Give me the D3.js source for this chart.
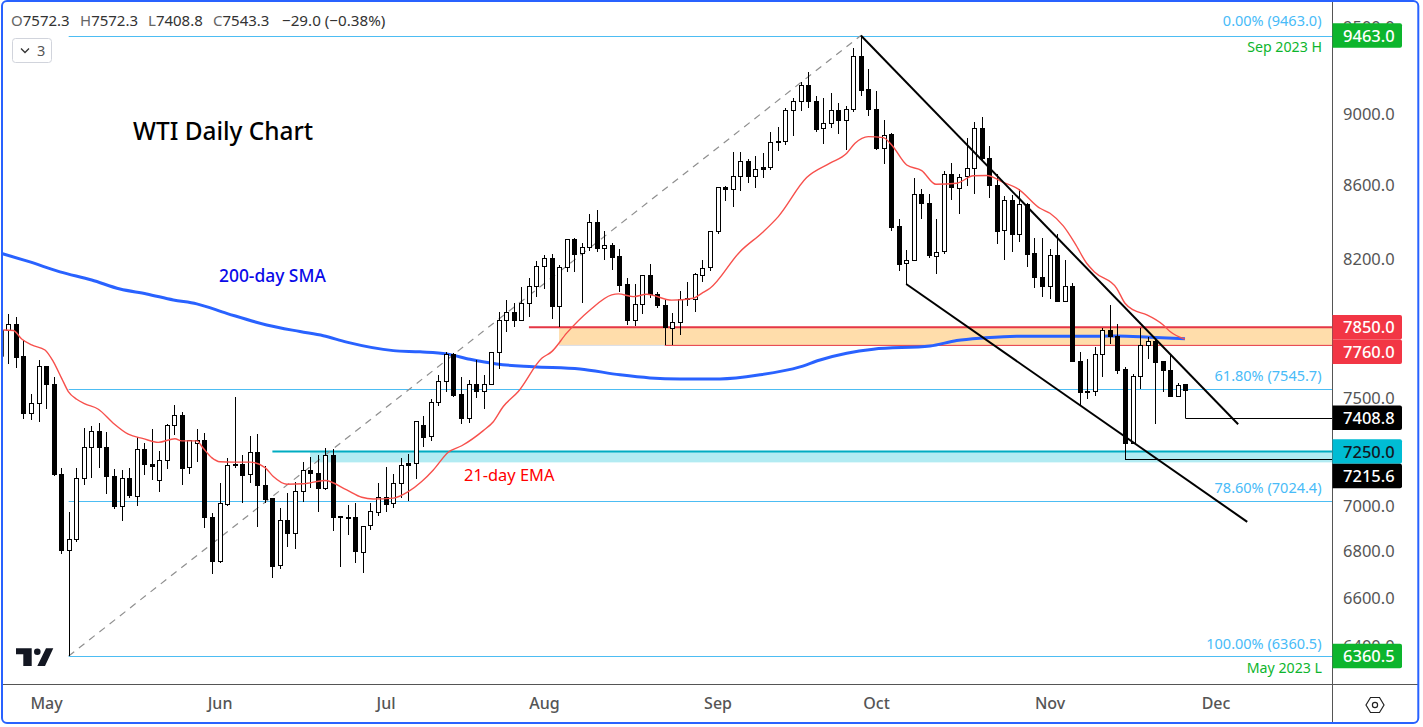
<!DOCTYPE html>
<html><head><meta charset="utf-8">
<script src="https://cdnjs.cloudflare.com/ajax/libs/d3/7.8.5/d3.min.js"></script>
<style>html,body{margin:0;padding:0;background:#fff;overflow:hidden}svg{display:block}text{font-family:"Noto Sans","Open Sans",sans-serif}</style>
</head><body><svg id="c" width="1423" height="727"></svg>
<script>
const opens=[7837,7866,7706,7430,7478,7657,7569,7145,6806,6853,7125,7268,7345,7270,7136,6999,7127,7048,7261,7192,7118,7210,7373,7422,7176,7289,7303,6951,6757,7012,7188,7192,7144,7247,7095,7037,6739,6938,6879,7068,7164,7151,7084,7233,6951,6950,6951,6800,6914,6978,7044,7012,7103,7187,7196,7373,7320,7483,7584,7716,7521,7406,7569,7536,7569,7726,7886,7927,7886,7972,8059,8163,8205,7955,8158,8306,8229,8263,8397,8256,8276,8216,8070,7884,7967,8116,8018,7962,7851,7879,7993,7993,8121,8156,8346,8587,8574,8647,8731,8645,8686,8695,8841,8841,9021,9073,9166,9074,8915,8946,9021,8969,9030,9339,9143,9026,8807,8885,8376,8179,8195,8548,8499,8221,8240,8658,8587,8645,8692,8917,8747,8598,8353,8516,8330,8494,8232,8106,8059,8221,7980,8059,7682,7534,7534,7716,7836,7807,7642,7289,7608,7761,7784,7682,7638,7516,7572.3];
const highs=[7918,7901,7787,7521,7688,7660,7603,7173,6974,7173,7359,7370,7383,7342,7169,7164,7173,7320,7290,7356,7252,7378,7468,7435,7304,7356,7336,6969,7104,7219,7508,7234,7323,7331,7182,7037,6992,7059,7109,7202,7225,7234,7268,7261,6959,7007,7014,6914,7017,7104,7179,7146,7220,7238,7392,7417,7497,7615,7729,7721,7603,7589,7687,7613,7726,7927,7989,7972,8056,8102,8191,8222,8226,8170,8306,8311,8284,8441,8463,8350,8284,8253,8101,8071,8118,8175,8032,7989,7921,8037,8080,8130,8196,8350,8590,8594,8783,8783,8742,8760,8775,8894,8925,9032,9090,9184,9243,9104,9090,9119,9061,9045,9386,9463,9260,9131,8965,8891,8414,8249,8636,8577,8548,8414,8675,8721,8660,8862,8952,8980,8815,8660,8539,8543,8576,8503,8311,8311,8253,8332,8195,8078,7726,7691,7751,7846,7964,7866,7655,7618,7846,7804,7796,7682,7717,7573,7572.3];
const lows=[7668,7650,7404,7400,7390,7452,7139,6791,6360.5,6844,7098,7129,7174,7057,6989,6936,7039,7003,7142,7120,7066,7170,7328,7098,7148,7202,6905,6705,6752,7003,7176,7017,7106,6910,7017,6688,6727,6822,6813,7021,7083,6977,7074,6892,6735,6873,6752,6709,6895,6959,6977,6994,7037,7025,7124,7273,7301,7465,7534,7508,7381,7386,7505,7452,7569,7645,7827,7854,7886,7903,8006,8047,7894,7854,8135,8135,7975,8245,8240,8196,8144,8032,7864,7858,7918,8001,7948,7762,7762,7812,7960,7930,8083,8139,8336,8512,8481,8566,8610,8585,8638,8682,8790,8822,8873,9017,9034,8896,8828,8921,8885,8794,9013,9105,8990,8796,8717,8351,8139,8071,8195,8416,8209,8125,8228,8517,8441,8594,8552,8738,8530,8281,8198,8240,8293,8161,8052,8006,7994,7980,7980,7680,7470,7500,7513,7606,7767,7620,7215.6,7286,7547,7691,7381,7534,7514,7516,7408.8];
const closes=[7866,7704,7428,7478,7657,7568,7144,6804,6854,7127,7270,7345,7268,7135,6999,7127,7048,7261,7190,7185,7210,7373,7421,7176,7303,7303,6950,6757,7014,7187,7192,7142,7247,7094,7033,6739,6938,6879,7068,7164,7148,7083,7233,6950,6956,6953,6800,6914,6978,7044,7012,7104,7187,7196,7392,7318,7483,7584,7716,7518,7404,7569,7534,7569,7726,7886,7927,7886,7972,8059,8163,8205,7955,8158,8306,8229,8263,8397,8256,8274,8214,8067,7884,7967,8116,8018,7960,7851,7879,7996,7998,8121,8156,8348,8587,8574,8647,8731,8645,8686,8697,8838,8845,9021,9073,9166,9070,8915,8946,9021,8966,9030,9339,9140,9024,8805,8881,8373,8177,8195,8548,8497,8219,8240,8658,8585,8645,8692,8917,8745,8596,8351,8516,8330,8494,8229,8104,8057,8221,7980,8059,7680,7529,7537,7716,7836,7804,7640,7289,7608,7761,7781,7680,7636,7514,7567,7543.3];
const emaIndex=[.33,1.66,2.77,4.1,5.86,6.96,8.07,8.95,10.06,11.16,12.93,14.91,16.9,18.89,20.88,23.09,23.98,25.97,26.84,27.95,29.05,30.82,33.03,35.02,36.12,37.9,40.1,42.97,45.85,47.84,49.37,52.02,54.01,55.79,57.33,59.31,61.09,63.95,65.28,66.6,68.59,71.7,73.02,75,78.1,80.97,81.85,83.83,85.61,88.92,91.79,92.9,94,97.98,101.07,103.05,106.81,109.9,112.12,113.22,114.98,116.97,118.08,120.07,122.06,123.95,126.7,128.9,130.67,132.87,134.86,137.74,139.06,140.82,142.37,143.92,145,147.9,149,150.1,151.9,154.07,154.97,156.95];
const emaValue=[7837,7834,7792,7762,7737,7680,7598,7534,7497,7475,7449,7383,7331,7310,7293,7310,7300,7300,7265,7222,7203,7201,7201,7176,7135,7100,7102,7117,7074,7041,7033,7037,7066,7112,7165,7247,7277,7348,7390,7462,7534,7696,7729,7821,7938,8015,8020,8006,8018,7988,7998,8023,8049,8240,8346,8427,8640,8720,8776,8832,8870,8864,8822,8710,8679,8603,8609,8650,8652,8614,8577,8472,8445,8377,8284,8179,8132,8049,7972,7938,7913,7862,7829,7791];
const smaIndex=[-.1,3.87,7.85,12.05,15.8,19.34,22.87,25.97,29.94,35.24,39.66,42.75,45.85,52.02,55.56,59.1,62.19,65.73,70.58,76.77,82.07,86.05,90.02,95.32,100.62,105.93,108.58,112.12,115.64,123.16,126.7,130.22,134.65,145.69,147.9,152.3,156.95];
const smaValue=[8233,8186,8134,8092,8045,8020,7989,7969,7921,7862,7829,7808,7776,7734,7728,7718,7691,7668,7655,7644,7615,7600,7595,7595,7615,7654,7688,7721,7741,7757,7784,7797,7806,7806,7807,7801,7793];
const edgeBar={index:.33,high:7837,low:7704};
const yTicks=[9500,9000,8600,8200,7500,7000,6800,6600,6400];
const monthNames=["May","Jun","Jul","Aug","Sep","Oct","Nov","Dec"];
const monthIndex=[6,29,51,72,95,116,139,161];
const fibPct=["0.00%","61.80%","78.60%","100.00%"];
const fibPrice=[9463,7545.7,7024.4,6360.5];
const fibStartIndex=9, swingHighIndex=114;
const channelUpper=[[114,9463],[164,7378]];
const channelLower=[[120,8071],[165.2,6931]];
const orangeZone={start:74,lineStart:70,lowStart:88,top:7850,bottom:7760};
const cyanZone={lineStart:36,start:41,top:7250,bottom:7200};
const lowRay={index:157,price:7408.8}, lowRay2={index:149,price:7215.6};
const pills=[[9463,"9463.0","#0DB52D","#fff"],[7850,"7850.0","#F23645","#fff"],[7760,"7760.0","#F23645","#fff"],[7408.8,"7408.8","#000","#fff"],[7250,"7250.0","#00BCD4","#131722"],[7215.6,"7215.6","#000","#fff"],[6360.5,"6360.5","#0DB52D","#fff"]];

const plotR=1332, plotB=684;
const x=d3.scaleLinear().domain([0,157]).range([0.78,0.78+157*7.545]);
const y=d3.scaleLog().domain([6360.5,9463]).range([656,35.5]);
const svg=d3.select("#c");
svg.append("defs").append("clipPath").attr("id","plot").append("rect").attr("x",3).attr("y",2).attr("width",plotR-3).attr("height",plotB-2);
const g=svg.append("g").attr("clip-path","url(#plot)");
const px=v=>Math.round(v)+.5;

// zones
g.append("rect").attr("x",x(orangeZone.start)).attr("y",y(orangeZone.top)).attr("width",plotR-x(orangeZone.start)).attr("height",y(orangeZone.bottom)-y(orangeZone.top)).attr("fill","#FFDDAB");
g.append("rect").attr("x",x(cyanZone.start)).attr("y",y(cyanZone.top)).attr("width",plotR-x(cyanZone.start)).attr("height",y(cyanZone.bottom)-y(cyanZone.top)).attr("fill","#B2EBF2");
g.append("line").attr("x1",x(orangeZone.start)).attr("x2",x(orangeZone.lowStart)).attr("y1",y(orangeZone.bottom)).attr("y2",y(orangeZone.bottom)).attr("stroke","#D9DCE8");
g.append("line").attr("x1",x(orangeZone.lineStart)).attr("x2",plotR).attr("y1",y(orangeZone.top)).attr("y2",y(orangeZone.top)).attr("stroke","#E53645").attr("stroke-width",2);
g.append("line").attr("x1",x(orangeZone.lowStart)).attr("x2",plotR).attr("y1",y(orangeZone.bottom)).attr("y2",y(orangeZone.bottom)).attr("stroke","#E53645").attr("stroke-width",1);
g.append("line").attr("x1",x(cyanZone.lineStart)).attr("x2",plotR).attr("y1",y(cyanZone.top)).attr("y2",y(cyanZone.top)).attr("stroke","#00ACC1").attr("stroke-width",2);

// fib lines
g.selectAll(".fib").data(fibPrice).join("line").attr("x1",x(fibStartIndex)).attr("x2",plotR)
 .attr("y1",d=>Math.round(y(d))+.5).attr("y2",d=>Math.round(y(d))+.5).attr("stroke","#4DBDF3").attr("stroke-width",1);
g.append("line").attr("x1",x(fibStartIndex)).attr("y1",y(6360.5)).attr("x2",x(swingHighIndex)).attr("y2",y(9463)).attr("stroke","#8f8f8f").attr("stroke-width",1.2).attr("stroke-dasharray","7 6");

// 200 SMA below candles
const lineGen=d3.line().x(d=>x(d[0])).y(d=>y(d[1])).curve(d3.curveMonotoneX);
g.append("path").attr("d",lineGen(d3.zip(smaIndex,smaValue))).attr("fill","none").attr("stroke","#2962FF").attr("stroke-width",3);

// candles
g.append("line").attr("x1",x(edgeBar.index)).attr("x2",x(edgeBar.index)).attr("y1",y(edgeBar.high)).attr("y2",y(edgeBar.low)).attr("stroke","#000");
const bars=d3.range(opens.length);
const cg=g.append("g").attr("shape-rendering","crispEdges");
cg.selectAll(".w").data(bars).join("line").attr("x1",i=>px(x(i+1))).attr("x2",i=>px(x(i+1)))
 .attr("y1",i=>y(highs[i])).attr("y2",i=>y(lows[i])).attr("stroke","#000").attr("stroke-width",1);
cg.selectAll(".b").data(bars).join("rect")
 .attr("x",i=>px(x(i+1))-2).attr("width",4)
 .attr("y",i=>Math.round(y(Math.max(opens[i],closes[i])))+.5)
 .attr("height",i=>Math.max(1,Math.round(Math.abs(y(opens[i])-y(closes[i])))))
 .attr("fill",i=>{const h=Math.abs(y(opens[i])-y(closes[i]));return closes[i]>=opens[i]&&h>=2.5?"#fff":"#000"})
 .attr("stroke","#000").attr("stroke-width",1);

// EMA above candles
g.append("path").attr("d",lineGen(d3.zip(emaIndex,emaValue))).attr("fill","none").attr("stroke","#F7504C").attr("stroke-width",1.4);

// trend lines
const tl=d3.line().x(d=>x(d[0])).y(d=>y(d[1]));
[channelUpper,channelLower].forEach(c=>g.append("path").attr("d",tl(c)).attr("fill","none").attr("stroke","#000").attr("stroke-width",2));
[lowRay,lowRay2].forEach(r=>g.append("line").attr("x1",x(r.index)).attr("x2",plotR).attr("y1",Math.round(y(r.price))+.5).attr("y2",Math.round(y(r.price))+.5).attr("stroke","#000"));

// plot text
const T=(tx,ty,s,size,col,anchor,weight)=>svg.append("text").attr("x",tx).attr("y",ty).attr("font-size",size).attr("fill",col).attr("text-anchor",anchor||"start").attr("font-weight",weight||400).text(s);
T(133,140,"WTI Daily Chart",24.4,"#000","start",500);
T(219,282,"200-day SMA",17.4,"#0A0AE8","start",500);
T(464,481,"21-day EMA",16.4,"#F00");
const fibLabelY=[26,381,493,649];
fibPct.forEach((p,i)=>T(1321.5,fibLabelY[i],p+" ("+fibPrice[i].toFixed(1)+")",14.5,"#48BBF8","end"));
T(1322,52,"Sep 2023 H",14.2,"#0DB52D","end");
T(1322,673,"May 2023 L",14.2,"#0DB52D","end");

// axes
const ya=svg.append("g").attr("transform",`translate(${plotR},0)`).call(d3.axisRight(y).tickValues(yTicks).tickSize(0).tickPadding(11).tickFormat(d=>d.toFixed(1)));
ya.select(".domain").remove();
ya.selectAll("text").attr("font-size",16.5).attr("fill","#555").style("font-family",'"Noto Sans"');
ya.selectAll(".tick").filter(d=>d===9500).select("text").attr("y",-2);
const xa=svg.append("g").attr("transform",`translate(0,${plotB})`).call(d3.axisBottom(x).tickValues(monthIndex).tickSize(0).tickPadding(14).tickFormat((d,i)=>monthNames[i]));
xa.select(".domain").remove();
xa.selectAll("text").attr("font-size",16).attr("fill","#555").attr("font-weight",500).style("font-family",'"Noto Sans"');
svg.append("line").attr("x1",plotR+.5).attr("x2",plotR+.5).attr("y1",2).attr("y2",723).attr("stroke","#555");
svg.append("line").attr("x1",3).attr("x2",1418).attr("y1",plotB+.5).attr("y2",plotB+.5).attr("stroke","#555");

// price pills: stacked downward so that neighbouring labels never overlap
const pillH=24.5;
let prevC=-1e9;
const pillCentre=pills.map(d=>{prevC=Math.max(y(d[0]),prevC+pillH);return prevC;});
const pg=svg.selectAll(".pill").data(pills).join("g");
pg.append("path").attr("d",(d,i)=>{const yc=pillCentre[i],t=yc-pillH/2,b=yc+pillH/2,r=plotR+70;return `M${plotR+.5},${t}H${r-2}Q${r},${t} ${r},${t+2}V${b-2}Q${r},${b} ${r-2},${b}H${plotR+.5}Z`}).attr("fill",d=>d[2]);
pg.append("text").attr("x",plotR+11).attr("y",(d,i)=>pillCentre[i]+6).attr("font-size",16.5).attr("font-weight",500).attr("fill",d=>d[3]).text(d=>d[1]);

// header
const hdr=[[11,"O","7572.3"],[80,"H","7572.3"],[148,"L","7408.8"],[213,"C","7543.3"]];
hdr.forEach(h=>{const t=svg.append("text").attr("x",h[0]).attr("y",26).attr("font-size",15);t.append("tspan").attr("fill","#666").text(h[1]);t.append("tspan").attr("fill","#333").text(h[2]);});
T(282,26,"−29.0 (−0.38%)",15.2,"#333");
svg.append("rect").attr("x",12.5).attr("y",38.5).attr("width",39).attr("height",24).attr("rx",3).attr("fill","#fff").attr("stroke","#D1D4DC");
svg.append("path").attr("d","M21,48.5l4,4l4,-4").attr("fill","none").attr("stroke","#333").attr("stroke-width",1.3);
T(37,56,"3",14.5,"#555");

// TV logo
svg.append("path").attr("fill","#131722").attr("d","M16,648.3H31.7V666H23.3V654.3H16ZM46,648.3H53.3L45,666H37.3Z");
svg.append("circle").attr("cx",37.3).attr("cy",651.7).attr("r",3.3).attr("fill","#131722");
// settings icon
svg.append("path").attr("d","M1366,705l4.5,-7.5h9l4.5,7.5l-4.5,7.5h-9Z").attr("fill","none").attr("stroke","#222").attr("stroke-width",1.2);
svg.append("circle").attr("cx",1375).attr("cy",705).attr("r",2.6).attr("fill","none").attr("stroke","#222").attr("stroke-width",1.2);
// frame
svg.append("rect").attr("x",2).attr("y",1).attr("width",1416.3).attr("height",722).attr("rx",5).attr("fill","none").attr("stroke","#2962FF").attr("stroke-width",2);
</script></body></html>
